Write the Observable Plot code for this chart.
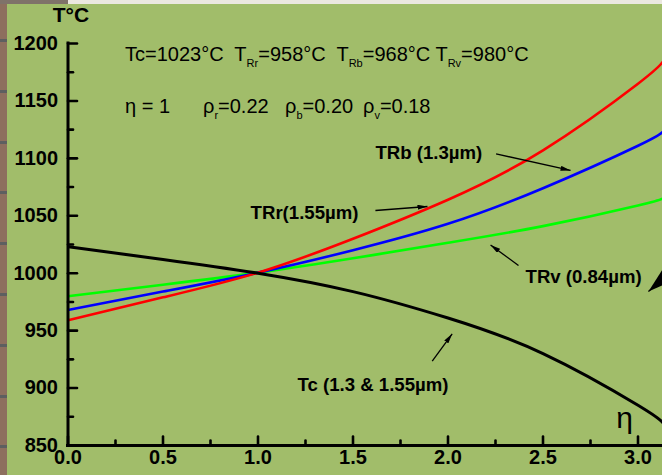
<!DOCTYPE html>
<html>
<head>
<meta charset="utf-8">
<script src="https://cdn.jsdelivr.net/npm/d3@7"></script>
<script src="https://cdn.jsdelivr.net/npm/@observablehq/plot@0.6"></script>
<style>
html, body { margin: 0; padding: 0; background: #ebe8e0; }
#wrap { position: relative; width: 662px; height: 475px; overflow: hidden; font-family: Arial, "Liberation Sans", sans-serif; }
#strip { position: absolute; left: 0; top: 0; width: 7px; height: 475px;
  background: repeating-linear-gradient(to bottom, #8d6f5e 0px, #8d6f5e 39px, #5d5f60 39px, #5d5f60 42px, #8d6f5e 42px, #8d6f5e 50.8px); }
#corner { position: absolute; left: 0; top: 0; width: 68px; height: 4px; background: #7f7269; }
#bg { position: absolute; left: 7px; top: 4px; right: 0; bottom: 0; background: #a1bd6a; }
#chart { position: absolute; left: 0; top: 0; }
</style>
</head>
<body>
<div id="wrap">
  <div id="strip"></div>
  <div id="corner"></div>
  <div id="bg"></div>
  <div id="chart"></div>
</div>
<script>
// ---- data ----
const eta = [0, 0.5, 1, 1.5, 2, 2.5, 3, 3.13];
const tc  = [1023, 1012, 1000, 984, 961, 930, 885, 870];     // black, Tc (1.3 & 1.55µm)
const tRr = [959, 979, 1000.5, 1030, 1064, 1107, 1165, 1184]; // red, TRr (1.55µm)
const tRb = [968, 984, 1000.5, 1020, 1043, 1074, 1111, 1123]; // blue, TRb (1.3µm)
const tRv = [980, 990, 1000.5, 1013, 1026.5, 1041, 1059, 1065]; // green, TRv (0.84µm)

const xMajor = [0, 0.5, 1, 1.5, 2, 2.5, 3];
const xMinor = [0.25, 0.75, 1.25, 1.75, 2.25, 2.75];
const yMajor = [850, 900, 950, 1000, 1050, 1100, 1150, 1200];
const yMinor = [875, 925, 975, 1025, 1075, 1125, 1175];

// annotation labels (position in data units)
const labels = [
  {text: "TRb (1.3µm)",       x: 1.618, y: 1104.2},
  {text: "TRr(1.55µm)",       x: 0.961, y: 1052.8},
  {text: "TRv (0.84µm)",      x: 2.408, y: 996.5},
  {text: "Tc (1.3 & 1.55µm)", x: 1.208, y: 902.2}
];
// annotation arrows (data units)
const arrows = [
  {x1: 2.253, y1: 1103.9, x2: 2.645, y2: 1089.5},
  {x1: 1.618, y1: 1054.6, x2: 1.892, y2: 1058.1},
  {x1: 2.371, y1: 1006.7, x2: 2.224, y2: 1024.6},
  {x1: 1.917, y1: 923.4,  x2: 2.022, y2: 947.2},
  {x1: 3.329, y1: 1023.2, x2: 3.055, y2: 984.1}
];

const series = [
  {T: tRv, color: "#00ff00", w: 2.6},
  {T: tRb, color: "#0000ff", w: 2.6},
  {T: tRr, color: "#ff0000", w: 2.6},
  {T: tc,  color: "#000000", w: 3}
];

const tickShape = {draw(context, l) { context.moveTo(0, 0); context.lineTo(0, -l); }};
const font = 'Arial, "Liberation Sans", sans-serif';

const lineMarks = series.map(s =>
  Plot.line(eta.map((e, i) => ({eta: e, T: s.T[i]})),
    {x: "eta", y: "T", stroke: s.color, strokeWidth: s.w, curve: "natural", clip: true})
);

const svg = Plot.plot({
  width: 662,
  height: 475,
  marginLeft: 67.5,
  marginRight: 0,
  marginTop: 43,
  marginBottom: 30,
  style: {background: "transparent", fontFamily: font, color: "black"},
  x: {domain: [0, 594.5 / 190], axis: null},
  y: {domain: [850, 1200], axis: null},
  marks: [
    ...lineMarks,
    // axes lines
    Plot.ruleX([0], {strokeWidth: 3, strokeLinecap: "square"}),
    Plot.ruleY([850], {strokeWidth: 3, strokeLinecap: "square"}),
    // inward ticks
    Plot.vector(yMajor, {x: () => 0, y: d => d, length: 9, rotate: 90, anchor: "start", shape: tickShape, strokeWidth: 2.6, stroke: "black"}),
    Plot.vector(yMinor, {x: () => 0, y: d => d, length: 5, rotate: 90, anchor: "start", shape: tickShape, strokeWidth: 2.6, stroke: "black"}),
    Plot.vector(xMajor, {x: d => d, y: () => 850, length: 9, rotate: 0, anchor: "start", shape: tickShape, strokeWidth: 2.6, stroke: "black"}),
    Plot.vector(xMinor, {x: d => d, y: () => 850, length: 5, rotate: 0, anchor: "start", shape: tickShape, strokeWidth: 2.6, stroke: "black"}),
    // tick labels
    Plot.text(yMajor, {frameAnchor: "left", y: d => d, text: d => String(d), textAnchor: "end", dx: -10, fontSize: 20, fontWeight: "bold", fill: "black"}),
    Plot.text(xMajor, {frameAnchor: "bottom", x: d => d, text: d => d.toFixed(1), dy: 18.6, fontSize: 20, fontWeight: "bold", fill: "black"}),
    // annotations
    Plot.text(labels, {x: "x", y: "y", text: "text", textAnchor: "start", fontSize: 18.6, fontWeight: "bold", fill: "black"}),
    Plot.text(["η"], {x: () => 2.929, y: () => 873.5, text: d => d, fontSize: 30, fill: "black"}),
    Plot.link(arrows, {x1: "x1", y1: "y1", x2: "x2", y2: "y2", stroke: "black", strokeWidth: 1.3})
  ]
});

document.getElementById("chart").appendChild(svg);

// arrow heads (filled) for the annotation links
const s = d3.select(svg);
const defs = s.append("defs");
defs.append("marker").attr("id", "ah").attr("viewBox", "0 0 10 5")
  .attr("markerWidth", 10).attr("markerHeight", 5).attr("refX", 10).attr("refY", 2.5)
  .attr("orient", "auto").attr("markerUnits", "userSpaceOnUse")
  .append("path").attr("d", "M0,0L10,2.5L0,5Z").attr("fill", "black");
defs.append("marker").attr("id", "ahBig").attr("viewBox", "0 0 30 18")
  .attr("markerWidth", 30).attr("markerHeight", 18).attr("refX", 30).attr("refY", 9)
  .attr("orient", "auto").attr("markerUnits", "userSpaceOnUse")
  .append("path").attr("d", "M0,0L30,9L0,18Z").attr("fill", "black");
s.selectAll('g[aria-label="link"] path').each(function(d, i, nodes) {
  d3.select(this).attr("marker-end", i === nodes.length - 1 ? "url(#ahBig)" : "url(#ah)");
});

// header texts with subscripts
const g = s.append("g").attr("font-family", font).attr("fill", "black")
  .attr("text-anchor", "start").style("white-space", "pre");
g.append("text").attr("x", 71).attr("y", 22).attr("text-anchor", "middle")
  .attr("font-size", 21).attr("font-weight", "bold").text("T°C");

const line1 = g.append("text").attr("x", 125).attr("y", 60.7).attr("font-size", 20);
const parts1 = [["Tc=1023°C  T", false], ["Rr", true], ["=958°C  T", false], ["Rb", true], ["=968°C T", false], ["Rv", true], ["=980°C", false]];
let sub = false;
parts1.forEach(([t, isSub]) => {
  const ts = line1.append("tspan").text(t);
  if (isSub && !sub) ts.attr("dy", 6).attr("font-size", 11);
  if (!isSub && sub) ts.attr("dy", -6);
  sub = isSub;
});

g.append("text").attr("x", 125).attr("y", 113).attr("font-size", 20).text("η = 1");
const rhos = [[203, "r", "=0.22"], [285, "b", "=0.20"], [363, "v", "=0.18"]];
rhos.forEach(([x, sb, val]) => {
  const t = g.append("text").attr("x", x).attr("y", 113).attr("font-size", 20);
  t.append("tspan").text("ρ");
  t.append("tspan").attr("dy", 6).attr("font-size", 11).text(sb);
  t.append("tspan").attr("dy", -6).text(val);
});
</script>
</body>
</html>
